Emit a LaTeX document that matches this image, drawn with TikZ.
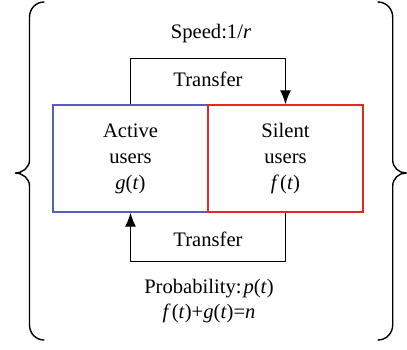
\documentclass[tikz,border=0pt]{standalone}
\usepackage{fontspec}
\setmainfont{Liberation Serif}
\usepackage{tikz}
\usetikzlibrary{positioning}
\usetikzlibrary{calc}
\usetikzlibrary{arrows.meta}
\definecolor{actblue}{RGB}{85,95,190}
\definecolor{silred}{RGB}{228,40,35}
\newcommand{\vr}[1]{\textit{#1}}
\tikzset{userbox/.style={minimum width=77.5pt,minimum height=53.5pt,align=center,line width=0.7pt,draw},
  flow/.style={-{Latex[length=7pt,width=5.5pt]},line width=0.6pt},
  brc/.style={line width=0.7pt,line cap=round}}

\begin{document}
\begin{tikzpicture}[x=1pt,y=1pt,font=\fontsize{10.3}{13}\selectfont]
\useasboundingbox (0,0) rectangle (203.5,174.5);
\node (act) [userbox, draw=actblue] at (65.25,95.25) {Active\\users\\\vr{g}(\vr{t})};
\node (sil) [userbox, draw=silred, right=-0.7pt of act] {Silent\\users\\\vr{f}\kern0.6pt(\vr{t})};

\draw[flow] (act.north) -- ++(0,23) -| node (trtop) [pos=0.25, below=3pt] {Transfer} (sil.north);
\draw[flow] (sil.south) -- ++(0,-24.5) -| node (trbot) [pos=0.25, above=4pt] {Transfer} (act.south);

\node (speed) at (105.5,157.8) {Speed:1/\vr{r}};
\node (prob) [align=center, font=\fontsize{10.3}{12.4}\selectfont] at (104.5,24) {Probability:\kern1pt\vr{p}(\vr{t})\\\vr{f}\kern0.6pt(\vr{t})+\vr{g}(\vr{t})=\vr{n}};

% braces
\draw[brc] (22,173.5) to[out=180,in=90] (14.75,166) -- (14.75,94.5) to[out=-90,in=0] (7.5,88)
  to[out=0,in=90] (14.75,81.5) -- (14.75,12) to[out=-90,in=180] (22,4.5);
\draw[brc] (189,173.5) to[out=0,in=90] (196.35,166) -- (196.35,94.5) to[out=-90,in=180] (203,88)
  to[out=180,in=90] (196.35,81.5) -- (196.35,12) to[out=-90,in=0] (189,4.5);
\end{tikzpicture}
\end{document}
